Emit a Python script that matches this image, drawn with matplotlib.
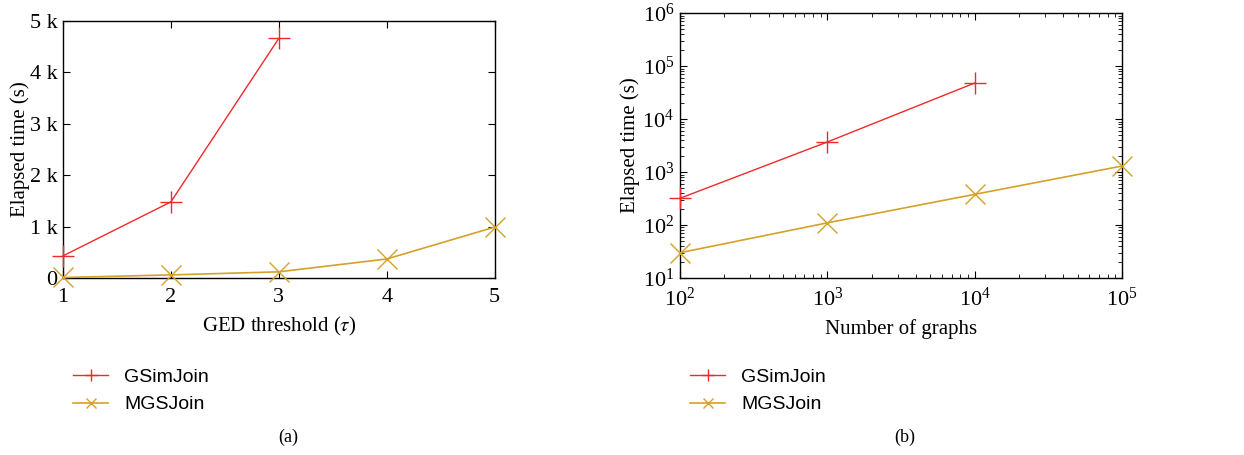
import matplotlib.pyplot as plt
import matplotlib.lines as mlines
import numpy as np

# (a) elapsed time vs GED threshold
tau = [1, 2, 3, 4, 5]
gsim_a = [430, 1480, 4660]
mgs_a = [10, 60, 120, 370, 990]

# (b) elapsed time vs number of graphs
ngraphs = [1e2, 1e3, 1e4, 1e5]
gsim_b = [320, 3700, 48000]
mgs_b = [30, 110, 380, 1300]

red = '#ee2a2a'
gold = '#d4a12a'

plt.rcParams['font.family'] = ['Liberation Serif', 'DejaVu Serif']
plt.rcParams['mathtext.fontset'] = 'stix'

fig = plt.figure(figsize=(12.44, 4.55), dpi=100)
ax1 = fig.add_axes([0.0506, 0.389, 0.347, 0.565])
ax2 = fig.add_axes([0.5466, 0.389, 0.3553, 0.582])

ax1.plot(tau[:3], gsim_a, color=red, lw=1, marker='+', ms=16, mew=1, clip_on=False, zorder=3)
ax1.plot(tau, mgs_a, color=gold, lw=1.2, marker='x', ms=14, mew=1, clip_on=False, zorder=3)
ax1.set_xlim(1, 5)
ax1.set_ylim(0, 5000)
ax1.set_xticks(tau)
ax1.set_yticks([0, 1000, 2000, 3000, 4000, 5000])
ax1.set_yticklabels(['0', '1 k', '2 k', '3 k', '4 k', '5 k'])
ax1.set_xlabel(r'GED threshold ($\tau$)', fontsize=15, labelpad=6)
ax1.set_ylabel('Elapsed time (s)', fontsize=15, labelpad=0)

ax2.plot(ngraphs[:3], gsim_b, color=red, lw=1, marker='+', ms=16, mew=1, clip_on=False, zorder=3)
ax2.plot(ngraphs, mgs_b, color=gold, lw=1.2, marker='x', ms=14, mew=1, clip_on=False, zorder=3)
ax2.set_xscale('log')
ax2.set_yscale('log')
ax2.set_xlim(1e2, 1e5)
ax2.set_ylim(1e1, 1e6)
ax2.set_xlabel('Number of graphs', fontsize=15, labelpad=6)
ax2.set_ylabel('Elapsed time (s)', fontsize=15, labelpad=2)

for ax in (ax1, ax2):
    ax.tick_params(which='both', direction='in', top=True, right=True, labelsize=16, pad=4)
    ax.tick_params(which='major', length=5)
    ax.tick_params(which='minor', length=3)
    for s in ax.spines.values():
        s.set_linewidth(1)
ax1.tick_params(axis='x', pad=7)
ax2.tick_params(axis='x', pad=7)

h1 = mlines.Line2D([], [], color=red, lw=1, marker='+', ms=9, label='GSimJoin')
h2 = mlines.Line2D([], [], color=gold, lw=1.2, marker='x', ms=7, label='MGSJoin')
for x0 in (0.059, 0.555):
    fig.legend(handles=[h1, h2], loc='upper left', bbox_to_anchor=(x0, 0.19), frameon=False,
               borderaxespad=0, borderpad=0,
               prop={'family': 'Liberation Sans', 'size': 14}, handlelength=1.8,
               handletextpad=0.8, labelspacing=0.5)

fig.text(0.2315, 0.038, '(a)', ha='center', va='center', fontsize=13)
fig.text(0.7275, 0.038, '(b)', ha='center', va='center', fontsize=13)

fig.savefig('out.png', dpi=100)
